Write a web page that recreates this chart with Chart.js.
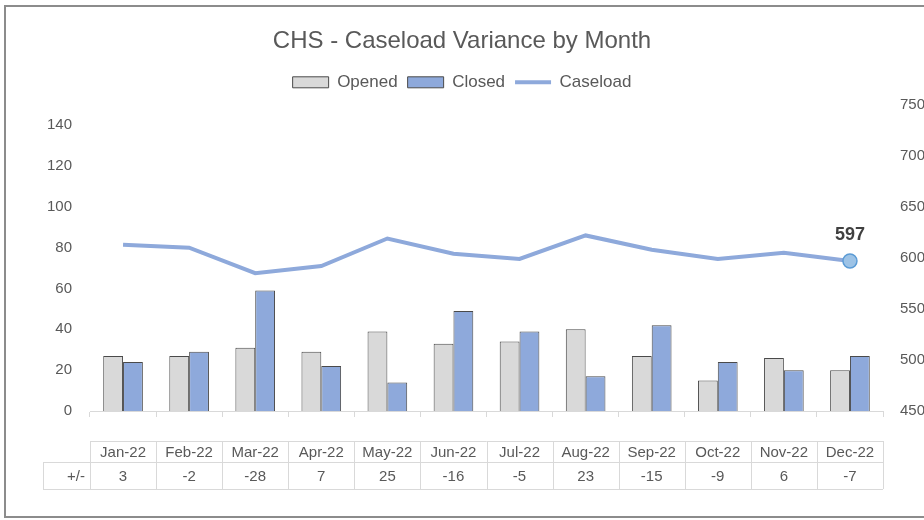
<!DOCTYPE html>
<html>
<head>
<meta charset="utf-8">
<script src="https://cdn.jsdelivr.net/npm/chart.js@4.4.1/dist/chart.umd.min.js"></script>
<style>
  html, body { margin: 0; padding: 0; background: #ffffff; }
  #caja { width: 924px; height: 520px; position: relative; }
</style>
</head>
<body>
<div id="caja"><canvas id="grafico" width="924" height="520"></canvas></div>
<script>
// datos
const meses = ['Jan-22', 'Feb-22', 'Mar-22', 'Apr-22', 'May-22', 'Jun-22',
               'Jul-22', 'Aug-22', 'Sep-22', 'Oct-22', 'Nov-22', 'Dec-22'];
const abiertos = [27, 27, 31, 29, 39, 33, 34, 40, 27, 15, 26, 20];
const cerrados = [24, 29, 59, 22, 14, 49, 39, 17, 42, 24, 20, 27];
const variacion = [3, -2, -28, 7, 25, -16, -5, 23, -15, -9, 6, -7];
const carga = [613, 610, 585, 592, 619, 604, 599, 622, 608, 599, 605, 597];

const color_linea = '#8EA9DB';
const gris_texto = '#595959';
const gris_tabla = '#D9D9D9';
const fuente = "'Liberation Sans', Arial, sans-serif";

Chart.defaults.font.family = fuente;
Chart.defaults.color = gris_texto;

// marco exterior del grafico
const marco = {
  id: 'marco',
  beforeDraw(chart) {
    const ctx = chart.ctx;
    ctx.save();
    ctx.fillStyle = '#ffffff';
    ctx.fillRect(0, 0, chart.width, chart.height);
    ctx.strokeStyle = '#8c8c8c';
    ctx.lineWidth = 2;
    ctx.strokeRect(5, 6, chart.width + 20, chart.height - 9);
    ctx.restore();
  }
};

// deja un poco mas de aire debajo de la leyenda
const aire_leyenda = {
  id: 'aire_leyenda',
  beforeInit(chart) {
    const fit_original = chart.legend.fit;
    chart.legend.fit = function () {
      fit_original.bind(chart.legend)();
      this.height += 4;
    };
  }
};

// etiqueta del ultimo punto (597)
const etiqueta_final = {
  id: 'etiqueta_final',
  afterDatasetsDraw(chart) {
    const meta = chart.getDatasetMeta(2);
    const ultimo = meta.data[meta.data.length - 1];
    const ctx = chart.ctx;
    ctx.save();
    ctx.font = 'bold 18px ' + fuente;
    ctx.fillStyle = '#404040';
    ctx.textAlign = 'center';
    ctx.textBaseline = 'middle';
    ctx.fillText(String(carga[carga.length - 1]), ultimo.x, ultimo.y - 26);
    ctx.restore();
  }
};

// tabla de datos debajo del eje x (meses y +/-)
const tabla = {
  id: 'tabla',
  afterDraw(chart) {
    const ejex = chart.scales.x;
    const ancho = (ejex.right - ejex.left) / meses.length;
    const y0 = ejex.top + 30;
    const y1 = y0 + 21;
    const y2 = y1 + 27;
    const x_izq = ejex.left - 47;
    const ctx = chart.ctx;
    ctx.save();
    ctx.strokeStyle = gris_tabla;
    ctx.lineWidth = 1;
    ctx.beginPath();
    ctx.moveTo(ejex.left, y0 + 0.5); ctx.lineTo(ejex.right, y0 + 0.5);
    ctx.moveTo(x_izq, y1 + 0.5); ctx.lineTo(ejex.right, y1 + 0.5);
    ctx.moveTo(x_izq, y2 + 0.5); ctx.lineTo(ejex.right, y2 + 0.5);
    ctx.moveTo(x_izq + 0.5, y1); ctx.lineTo(x_izq + 0.5, y2);
    for (let i = 0; i <= meses.length; i++) {
      const x = Math.round(ejex.left + i * ancho) + 0.5;
      ctx.moveTo(x, y0); ctx.lineTo(x, y2);
    }
    ctx.stroke();

    ctx.font = '15px ' + fuente;
    ctx.fillStyle = gris_texto;
    ctx.textBaseline = 'middle';
    ctx.textAlign = 'center';
    meses.forEach((m, i) => {
      const cx = ejex.getPixelForValue(i);
      ctx.fillText(m, cx, (y0 + y1) / 2 + 1);
      ctx.fillText(String(variacion[i]), cx, (y1 + y2) / 2 + 1);
    });
    ctx.textAlign = 'right';
    ctx.fillText('+/-', ejex.left - 5, (y1 + y2) / 2 + 1);
    ctx.restore();
  }
};

new Chart(document.getElementById('grafico').getContext('2d'), {
  type: 'bar',
  data: {
    labels: meses,
    datasets: [
      {
        label: 'Opened',
        data: abiertos,
        backgroundColor: '#D9D9D9',
        borderColor: '#4a4a4a',
        borderWidth: 1,
        categoryPercentage: 0.6,
        barPercentage: 1.0,
        yAxisID: 'y'
      },
      {
        label: 'Closed',
        data: cerrados,
        backgroundColor: '#8EA9DB',
        borderColor: '#4a4a4a',
        borderWidth: 1,
        categoryPercentage: 0.6,
        barPercentage: 1.0,
        yAxisID: 'y'
      },
      {
        type: 'line',
        label: 'Caseload',
        data: carga,
        borderColor: color_linea,
        borderWidth: 4,
        tension: 0,
        pointRadius: ctx => ctx.dataIndex === carga.length - 1 ? 7 : 0,
        pointHoverRadius: 0,
        pointBackgroundColor: '#9DC3E6',
        pointBorderColor: '#5B9BD5',
        pointBorderWidth: 1.5,
        yAxisID: 'y2'
      }
    ]
  },
  options: {
    responsive: false,
    animation: false,
    layout: { padding: { top: 0, left: 0, right: 0, bottom: 103 } },
    plugins: {
      tooltip: { enabled: false },
      title: {
        display: true,
        text: 'CHS - Caseload Variance by Month',
        color: gris_texto,
        font: { size: 24, weight: 'normal' },
        padding: { top: 27, bottom: 8 }
      },
      legend: {
        position: 'top',
        labels: {
          color: gris_texto,
          font: { size: 17 },
          usePointStyle: true,
          pointStyleWidth: 36,
          boxHeight: 11,
          padding: 10,
          generateLabels(chart) {
            const items = Chart.defaults.plugins.legend.labels.generateLabels(chart);
            items.forEach(it => {
              if (it.datasetIndex === 2) {
                it.pointStyle = 'line';
                it.strokeStyle = color_linea;
                it.lineWidth = 4;
              } else {
                it.pointStyle = 'rect';
                it.strokeStyle = '#4a4a4a';
                it.lineWidth = 1;
              }
            });
            return items;
          }
        }
      }
    },
    scales: {
      x: {
        offset: true,
        grid: { display: true, drawOnChartArea: false, offset: true, tickLength: 6, color: gris_tabla },
        border: { color: gris_tabla },
        ticks: { display: false }
      },
      y: {
        position: 'left',
        min: 0,
        max: 150,
        grid: { display: false },
        border: { display: false },
        ticks: { stepSize: 20, padding: 10, font: { size: 15 }, color: gris_texto },
        afterBuildTicks: eje => { eje.ticks = eje.ticks.filter(t => t.value <= 140); },
        afterFit: eje => { eje.width = 90; }
      },
      y2: {
        position: 'right',
        min: 450,
        max: 750,
        grid: { display: false },
        border: { display: false },
        ticks: { stepSize: 50, padding: 9, font: { size: 15 }, color: gris_texto },
        afterFit: eje => { eje.width = 41; }
      }
    }
  },
  plugins: [marco, aire_leyenda, etiqueta_final, tabla]
});
</script>
</body>
</html>
